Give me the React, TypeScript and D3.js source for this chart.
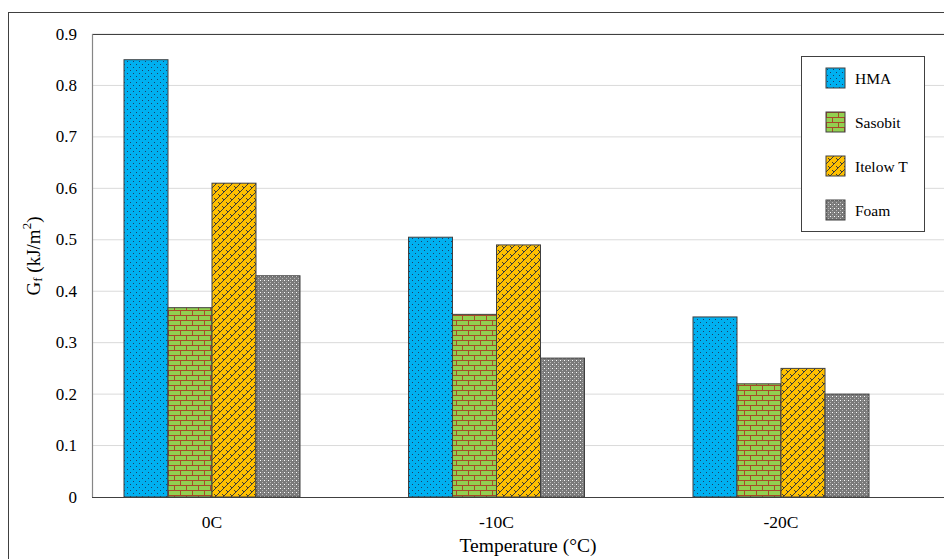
import React from "react";
import * as d3 from "d3";

const categories = ["0C", "-10C", "-20C"];
const seriesNames = ["HMA", "Sasobit", "Itelow T", "Foam"];
const hmaValues = [0.85, 0.505, 0.35];
const sasobitValues = [0.368, 0.355, 0.22];
const itelowValues = [0.61, 0.49, 0.25];
const foamValues = [0.43, 0.27, 0.2];
const yTicks = [0, 0.1, 0.2, 0.3, 0.4, 0.5, 0.6, 0.7, 0.8, 0.9];

const seriesValues = [hmaValues, sasobitValues, itelowValues, foamValues];
const patternIds = ["pHMA", "pSas", "pIte", "pFoam"];

const W = 944;
const H = 559;
const plotLeft = 92;
const plotTop = 34;
const plotBottom = 497;
const FONT = "'Liberation Serif', 'Times New Roman', serif";

export default function App() {
  const y = d3.scaleLinear().domain([0, 0.9]).range([plotBottom, plotTop]);
  const x = d3
    .scaleBand<string>()
    .domain(categories)
    .range([69.75, 923.25])
    .paddingInner(0.3814)
    .paddingOuter(0.1907);
  const xs = d3
    .scaleBand<string>()
    .domain(seriesNames)
    .range([0, x.bandwidth()])
    .padding(0);

  return (
    <svg
      width={W}
      height={H}
      style={{ position: "absolute", left: 0, top: 0, background: "#fff" }}
    >
      <defs>
        <pattern id="pHMA" width="6" height="6" patternUnits="userSpaceOnUse">
          <rect width="6" height="6" fill="#00B0F0" />
          <rect x="1" y="1" width="1" height="1" fill="#1F3F66" />
          <rect x="4" y="4" width="1" height="1" fill="#1F3F66" />
        </pattern>
        <pattern id="pSas" width="12" height="10" patternUnits="userSpaceOnUse" shapeRendering="crispEdges">
          <rect width="12" height="10" fill="#92D050" />
          <rect x="0" y="0" width="12" height="1" fill="#A84A28" />
          <rect x="0" y="5" width="12" height="1" fill="#A84A28" />
          <rect x="0" y="0" width="1" height="5" fill="#A84A28" />
          <rect x="6" y="5" width="1" height="5" fill="#A84A28" />
        </pattern>
        <pattern id="pIte" width="8" height="8" patternUnits="userSpaceOnUse">
          <rect width="8" height="8" fill="#FFC000" />
          <path d="M0,8 L8,0 M-2,2 L2,-2 M6,10 L10,6" stroke="#3A3A3A" strokeWidth="1" />
          <path d="M2,2 L4,4 M6,6 L8,8" stroke="#3A3A3A" strokeWidth="1" />
        </pattern>
        <pattern id="pFoam" width="4" height="4" patternUnits="userSpaceOnUse">
          <rect width="4" height="4" fill="#7A7A7A" />
          <rect x="0" y="0" width="1" height="1" fill="#ffffff" />
          <rect x="2" y="2" width="1" height="1" fill="#B8B8B8" />
          <rect x="2" y="0" width="1" height="1" fill="#959595" />
        </pattern>
      </defs>

      {/* outer frame */}
      <rect x={8.5} y={12.5} width={W + 10} height={H + 10} fill="none" stroke="#404040" strokeWidth={1} />

      {/* gridlines */}
      {yTicks.slice(1).map((t) => (
        <line key={t} x1={plotLeft} x2={W} y1={y(t)} y2={y(t)} stroke="#DADADA" strokeWidth={1} />
      ))}
      {/* plot top border */}
      <line x1={plotLeft} x2={W} y1={plotTop + 0.5} y2={plotTop + 0.5} stroke="#404040" strokeWidth={1} />

      {/* bars */}
      {categories.map((c, ci) =>
        seriesNames.map((s, si) => {
          const v = seriesValues[si][ci];
          const bx = (x(c) as number) + (xs(s) as number);
          return (
            <rect
              key={c + s}
              x={bx}
              y={y(v)}
              width={xs.bandwidth()}
              height={plotBottom - y(v)}
              fill={`url(#${patternIds[si]})`}
              stroke="#404040"
              strokeWidth={1}
            />
          );
        })
      )}

      {/* axes */}
      <line x1={plotLeft + 0.5} x2={plotLeft + 0.5} y1={plotTop} y2={plotBottom} stroke="#868686" strokeWidth={1.2} />
      <line x1={plotLeft} x2={W} y1={plotBottom + 0.5} y2={plotBottom + 0.5} stroke="#404040" strokeWidth={1.2} />

      {/* y tick labels */}
      {yTicks.map((t) => (
        <text
          key={t}
          x={77}
          y={y(t)}
          textAnchor="end"
          dominantBaseline="central"
          fontFamily={FONT}
          fontSize={17}
          fill="#000"
        >
          {d3.format("")(t)}
        </text>
      ))}

      {/* x category labels */}
      {categories.map((c) => (
        <text
          key={c}
          x={(x(c) as number) + x.bandwidth() / 2}
          y={522}
          textAnchor="middle"
          dominantBaseline="central"
          fontFamily={FONT}
          fontSize={17.5}
          fill="#000"
        >
          {c}
        </text>
      ))}

      {/* x title */}
      <text x={528} y={545} textAnchor="middle" dominantBaseline="central" fontFamily={FONT} fontSize={19.5} fill="#000">
        Temperature (°C)
      </text>

      {/* y title */}
      <text
        transform="translate(33,256) rotate(-90)"
        textAnchor="middle"
        dominantBaseline="central"
        fontFamily={FONT}
        fontSize={19}
        fill="#000"
      >
        G
        <tspan fontSize={13} dy={4}>f</tspan>
        <tspan dy={-4}> (kJ/m</tspan>
        <tspan fontSize={13} dy={-7}>2</tspan>
        <tspan dy={7}>)</tspan>
      </text>

      {/* legend */}
      <rect x={801.5} y={56.5} width={123} height={175} fill="#fff" stroke="#404040" strokeWidth={1} />
      {seriesNames.map((s, i) => (
        <g key={s} transform={`translate(826,${68 + i * 44})`}>
          <rect x={0} y={0} width={19} height={20} fill={`url(#${patternIds[i]})`} stroke="#404040" strokeWidth={1} />
          <text x={29} y={10} dominantBaseline="central" fontFamily={FONT} fontSize={15.5} fill="#000">
            {s}
          </text>
        </g>
      ))}
    </svg>
  );
}
